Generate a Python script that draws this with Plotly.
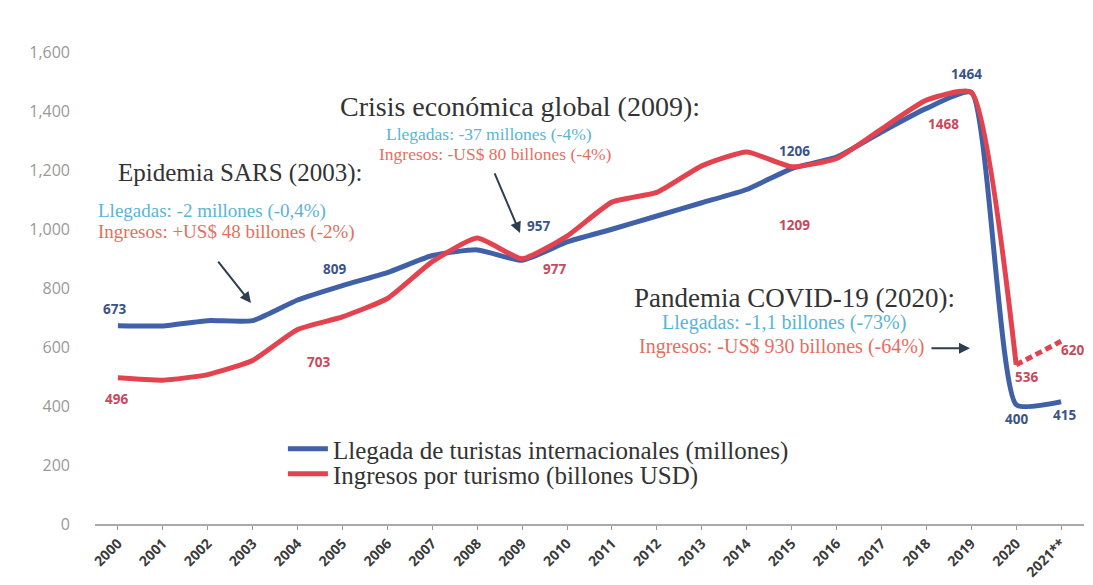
import plotly.graph_objects as go

years = list(range(2000, 2022))
tick_labels = [str(y) for y in range(2000, 2021)] + ["2021**"]

llegadas = [673, 672, 690, 690, 760, 809, 853, 911, 930, 895, 957, 1000,
            1045, 1090, 1135, 1206, 1245, 1330, 1410, 1464, 405, 415]
ingresos = [496, 488, 507, 555, 660, 703, 765, 890, 970, 900, 977, 1092,
            1125, 1215, 1262, 1212, 1240, 1340, 1438, 1465, 540]
ingresos_2021 = 620

BLUE = "#4061a8"
RED = "#e2434f"
SERIF = "Liberation Serif"

fig = go.Figure()
fig.add_trace(go.Scatter(
    x=years, y=llegadas, mode="lines",
    line=dict(color=BLUE, width=5, shape="spline", smoothing=0.5),
    name="Llegada de turistas internacionales (millones)", legend="legend"))
fig.add_trace(go.Scatter(
    x=years[:len(ingresos)], y=ingresos, mode="lines",
    line=dict(color=RED, width=5, shape="spline", smoothing=0.5),
    name="Ingresos por turismo (billones USD)", legend="legend2"))
fig.add_trace(go.Scatter(
    x=[years[-2], years[-1]], y=[ingresos[-1], ingresos_2021], mode="lines",
    line=dict(color=RED, width=5, dash="7px,4px"), showlegend=False))

ML, MT, PW, PH = 87, 30, 989, 506
ann = []

def px_x(px):
    return (px - ML) / PW

def px_y(py):
    return (MT + PH - py) / PH

def txt(px, py, text, size, color, family=SERIF, xanchor="left", bold=False):
    if bold:
        text = "<b>" + text + "</b>"
    ann.append(dict(x=px_x(px), y=px_y(py), xref="paper", yref="paper", text=text,
                    showarrow=False, xanchor=xanchor, yanchor="middle",
                    font=dict(family=family, size=size, color=color)))

def arrow(hx, hy, tx, ty):
    ann.append(dict(x=px_x(hx), y=px_y(hy), ax=tx - hx, ay=ty - hy,
                    xref="paper", yref="paper", axref="pixel", ayref="pixel",
                    text="", showarrow=True, arrowhead=2, arrowsize=1.1,
                    arrowwidth=2, arrowcolor="#2c3e50"))

TITLE = "#333333"
LBLUE = "#5ab4d6"
LRED = "#e86d5f"

# SARS
txt(108, 171, "Epidemia SARS (2003):", 25, TITLE)
txt(88, 210, "Llegadas: -2 millones (-0,4%)", 19, LBLUE)
txt(88, 232, "Ingresos: +US$ 48 billones (-2%)", 19, LRED)
arrow(243, 306, 209, 263)

# Crisis
txt(330, 101, "Crisis económica global (2009):", 28, TITLE)
txt(376, 130, "Llegadas: -37 millones (-4%)", 17.5, LBLUE)
txt(369, 151, "Ingresos: -US$ 80 billones (-4%)", 17.5, LRED)
arrow(512, 233, 486, 172)

# COVID
txt(624, 301, "Pandemia COVID-19 (2020):", 27, TITLE)
txt(652, 326, "Llegadas: -1,1 billones (-73%)", 20, LBLUE)
txt(629, 351, "Ingresos: -US$ 930 billones (-64%)", 20, LRED)
arrow(962, 353, 922, 353)

# data labels
DB = "#3a5487"
DR = "#c9485b"
LF = "Open Sans"
for px, py, t, c in [
    (106, 312, "673", DB), (108, 406, "496", DR),
    (326, 271, "809", DB), (310, 367, "703", DR),
    (530, 226, "957", DB), (546, 270, "977", DR),
    (786, 148, "1206", DB), (786, 225, "1209", DR),
    (958, 68, "1464", DB), (935, 120, "1468", DR),
    (1018, 383, "536", DR), (1064, 355, "620", DR),
    (1008, 427, "400", DB), (1056, 422, "415", DB)]:
    txt(px, py, t, 13.5, c, family=LF, xanchor="center", bold=True)

legend_common = dict(xanchor="left", yanchor="middle", bgcolor="rgba(0,0,0,0)",
                     itemwidth=40, font=dict(family=SERIF, size=25, color="#333333"))

fig.update_layout(
    width=1093, height=585,
    margin=dict(l=ML, r=17, t=MT, b=49),
    paper_bgcolor="white", plot_bgcolor="white",
    showlegend=True,
    legend=dict(x=0.19, y=px_y(458), **legend_common),
    legend2=dict(x=0.19, y=px_y(484), **legend_common),
    annotations=ann,
    xaxis=dict(range=[1999.49, 2021.51], tickmode="array", tickvals=years,
               ticktext=tick_labels, tickangle=-45, showgrid=False, zeroline=False,
               showline=True, linecolor="#aaaaaa", linewidth=1.5,
               ticks="outside", ticklen=4, tickcolor="#999999",
               tickfont=dict(family="Open Sans", size=14, color="#3a3a3a", weight=700)),
    yaxis=dict(range=[0, 1648.9], tickvals=list(range(0, 1601, 200)), tickformat=",",
               showgrid=False, zeroline=False, showline=False,
               ticklabelstandoff=24,
               tickfont=dict(family="Open Sans", size=16, color="#999999")),
)

fig.write_html("out.html")
